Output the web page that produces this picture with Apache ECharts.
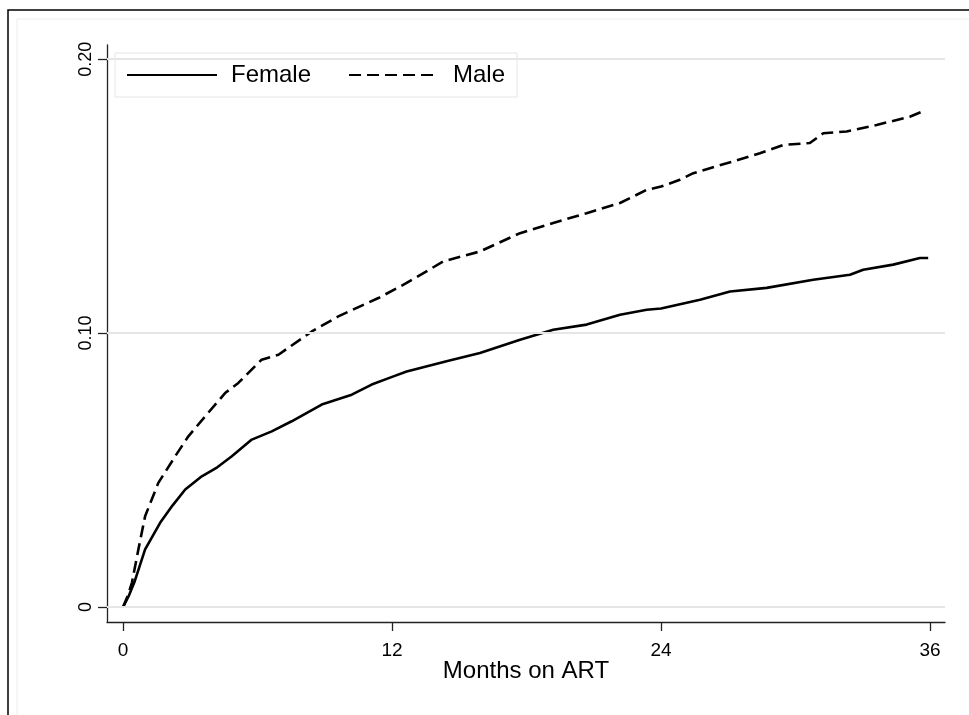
<!DOCTYPE html>
<html>
<head>
<meta charset="utf-8">
<script src="https://cdn.jsdelivr.net/npm/echarts@6/dist/echarts.min.js"></script>
<style>
html,body{margin:0;padding:0;background:#fff;}
#chart{width:969px;height:715px;}
</style>
</head>
<body>
<div id="chart"></div>
<script>
// ---- data ----
var seriesNames = ['Female', 'Male'];
var femaleMonths = [0, 0.25, 0.5, 0.98, 1.65, 2.2, 2.77, 3.51, 4.2, 4.85, 5.74, 6.63, 7.52, 8.86, 10.2, 11.09, 12.0, 12.65, 14.43, 15.92, 17.71, 19.19, 20.68, 22.17, 23.36, 24.0, 25.74, 27.08, 28.71, 30.79, 32.43, 33.02, 34.36, 35.55, 35.92];
var femaleValues = [0, 0.004, 0.009, 0.021, 0.0307, 0.037, 0.0429, 0.0477, 0.051, 0.055, 0.0611, 0.0641, 0.0678, 0.0739, 0.0775, 0.0812, 0.0840, 0.086, 0.0897, 0.0927, 0.0976, 0.1012, 0.1031, 0.1067, 0.1085, 0.1090, 0.1122, 0.1152, 0.1165, 0.1195, 0.1213, 0.1231, 0.125, 0.1274, 0.1274];
var maleMonths = [0, 0.2, 0.39, 0.68, 0.98, 1.57, 2.32, 2.91, 3.66, 4.55, 5.14, 6.18, 6.93, 8.42, 9.6, 11.39, 12.65, 14.29, 15.92, 17.71, 19.19, 20.68, 22.17, 23.36, 24.0, 24.84, 25.44, 26.93, 28.41, 29.45, 30.64, 31.24, 32.28, 33.62, 35.1, 35.77];
var maleValues = [0, 0.004, 0.0088, 0.021, 0.0331, 0.0453, 0.055, 0.0623, 0.0696, 0.0781, 0.0818, 0.0903, 0.0921, 0.1006, 0.1061, 0.1128, 0.1183, 0.1262, 0.1298, 0.1365, 0.1402, 0.1438, 0.1475, 0.1523, 0.1535, 0.156, 0.1584, 0.162, 0.1657, 0.1687, 0.1694, 0.173, 0.1736, 0.176, 0.179, 0.1813];
var xTicks = [0, 12, 24, 36];
var yTicks = [0, 0.1, 0.2];
var yTickLabels = ['0', '0.10', '0.20'];
var xTitle = 'Months on ART';

function pairs(xs, ys) { return xs.map(function (x, i) { return [x, ys[i]]; }); }

var FONT = 'Liberation Sans, Arial, Helvetica, sans-serif';
var chart = echarts.init(document.getElementById('chart'), null, { renderer: 'canvas' });
chart.setOption({
  animation: false,
  backgroundColor: '#fff',
  textStyle: { fontFamily: FONT },
  graphic: [
    { type: 'rect', shape: { x: 8, y: 10, width: 1100, height: 900 }, style: { fill: null, stroke: '#000', lineWidth: 1.5 }, z: 0, silent: true },
    { type: 'rect', shape: { x: 17, y: 19, width: 1100, height: 900 }, style: { fill: null, stroke: '#ececec', lineWidth: 1 }, z: 0, silent: true }
  ],
  grid: { left: 107, top: 45, right: 24, bottom: 93, containLabel: false },
  legend: {
    data: seriesNames,
    left: 115, top: 53,
    orient: 'horizontal',
    padding: [10, 12, 10, 11],
    itemWidth: 90, itemHeight: 14, itemGap: 37,
    itemStyle: { opacity: 0 },
    backgroundColor: '#fff', borderColor: '#e6e6e6', borderWidth: 1,
    textStyle: { fontSize: 24, color: '#000', fontFamily: FONT, lineHeight: 24, padding: [0, 0, 0, 9] },
    selectedMode: false
  },
  xAxis: {
    type: 'value', min: -0.72, max: 36.67,
    name: xTitle, nameLocation: 'middle', nameGap: 37, nameMoveOverlap: false,
    nameTextStyle: { fontSize: 24, color: '#000', fontFamily: FONT },
    axisLine: { show: true, onZero: false, lineStyle: { color: '#222', width: 1.3 } },
    axisTick: { show: true, length: 9, customValues: xTicks, lineStyle: { color: '#222', width: 1.3 } },
    axisLabel: { customValues: xTicks, fontSize: 19, color: '#000', margin: 19, fontFamily: FONT },
    splitLine: { show: false }
  },
  yAxis: {
    type: 'value', min: -0.0055, max: 0.2052,
    axisLine: { show: true, onZero: false, lineStyle: { color: '#222', width: 1.3 } },
    axisTick: { show: true, length: 9, customValues: yTicks, lineStyle: { color: '#222', width: 1.3 } },
    axisLabel: {
      customValues: yTicks, rotate: 90, fontSize: 18, color: '#000', margin: 12, fontFamily: FONT,
      formatter: function (v) { var i = yTicks.findIndex(function (t) { return Math.abs(t - v) < 1e-9; }); return i >= 0 ? yTickLabels[i] : ''; }
    },
    splitLine: { show: false }
  },
  series: [
    {
      name: 'gridlines', type: 'line', data: [], z: 1, silent: true,
      markLine: {
        silent: true, symbol: ['none', 'none'], label: { show: false },
        lineStyle: { color: '#e6e6e6', width: 2, type: 'solid' },
        data: yTicks.map(function (t) { return { yAxis: t }; })
      }
    },
    {
      name: seriesNames[0], type: 'line', data: pairs(femaleMonths, femaleValues),
      showSymbol: false, symbol: 'none', z: 3,
      lineStyle: { color: '#000', width: 2.6, type: 'solid' }, itemStyle: { color: '#000' }
    },
    {
      name: seriesNames[1], type: 'line', data: pairs(maleMonths, maleValues),
      showSymbol: false, symbol: 'none', z: 3,
      lineStyle: { color: '#000', width: 2.6, type: [12, 6] }, itemStyle: { color: '#000' }
    }
  ]
});
</script>
</body>
</html>
